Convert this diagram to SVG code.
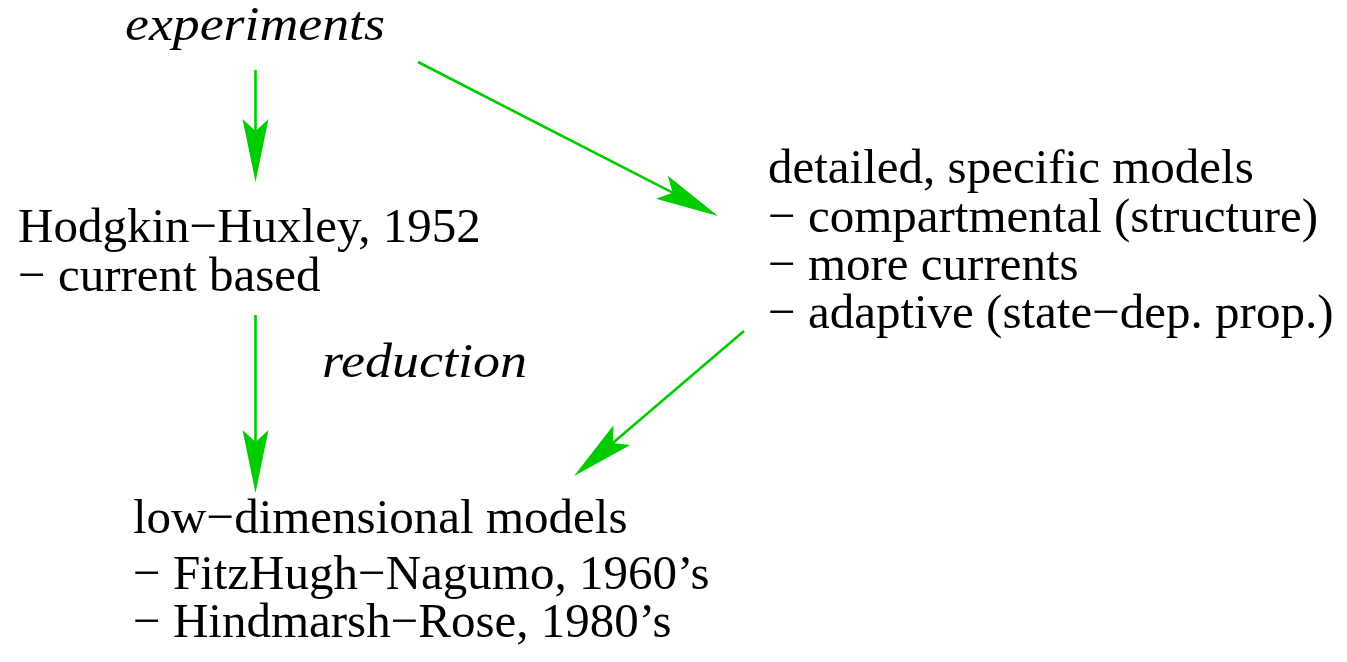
<svg xmlns="http://www.w3.org/2000/svg" width="1347" height="662" viewBox="0 0 1347 662">
<style>
  text { font-family: "Liberation Serif", "Times New Roman", serif; font-size: 49px; fill: #000; }
  .it { font-style: italic; font-size: 48px; }
  .conn { stroke: #00cc00; stroke-width: 2.6; fill: none; marker-end: url(#head); }
</style>
<defs>
  <marker id="head" markerUnits="userSpaceOnUse" markerWidth="64" markerHeight="28" viewBox="0 -14 64 28" refX="12" refY="0" orient="auto" overflow="visible">
    <path d="M63,0 L0,-13 L12,0 L0,13 Z" fill="#00cc00"/>
  </marker>
</defs>
<rect width="1347" height="662" fill="#fff"/>
<g id="connectors">
  <path class="conn" d="M255.5,70 L255.5,131"/>
  <path class="conn" d="M255.5,315 L255.5,442"/>
  <path class="conn" d="M418,62 L672.6,192.7"/>
  <path class="conn" d="M744,331 L612.8,442.9"/>
</g>
<g id="experiments"><text class="it" x="125" y="40" textLength="260" lengthAdjust="spacingAndGlyphs">experiments</text></g>
<g id="reduction"><text class="it" x="322" y="377" textLength="205" lengthAdjust="spacingAndGlyphs">reduction</text></g>
<g id="hodgkin-huxley">
  <text x="18" y="242">Hodgkin−Huxley, 1952</text>
  <text x="18" y="291">− current based</text>
</g>
<g id="detailed">
  <text x="768" y="183">detailed, specific models</text>
  <text x="768" y="232">− compartmental (structure)</text>
  <text x="768" y="280">− more currents</text>
  <text x="768" y="328">− adaptive (state−dep. prop.)</text>
</g>
<g id="low-dimensional">
  <text x="133" y="533">low−dimensional models</text>
  <text x="133" y="589">− FitzHugh−Nagumo, 1960’s</text>
  <text x="133" y="637">− Hindmarsh−Rose, 1980’s</text>
</g>
</svg>
